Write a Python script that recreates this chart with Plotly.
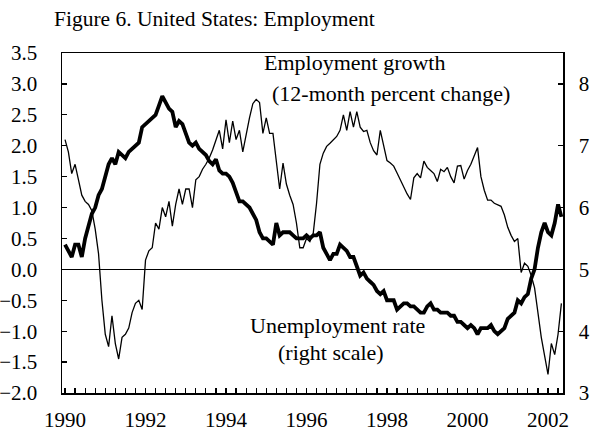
import plotly.graph_objects as go

# Monthly data, Jan 1990 - May 2002
start_year = 1990
growth = [
    2.1, 1.9, 1.55, 1.7, 1.45, 1.2, 1.1, 1.05, 0.95, 0.65, 0.25, -0.5,
    -1.05, -1.25, -0.75, -1.2, -1.45, -1.1, -1.05, -0.95, -0.7, -0.55, -0.5, -0.65,
    0.15, 0.3, 0.35, 0.75, 0.65, 1.0, 0.85, 1.1, 0.7, 1.05, 1.3, 1.05,
    1.3, 1.3, 1.0, 1.45, 1.5, 1.62, 1.7, 1.8, 1.93, 2.1, 2.25, 1.95,
    2.42, 2.05, 2.4, 2.1, 2.25, 1.9, 2.2, 2.45, 2.68, 2.75, 2.7, 2.2,
    2.45, 2.2, 2.2, 1.75, 1.3, 1.72, 1.38, 1.2, 1.05, 0.75, 0.35, 0.35,
    0.5, 0.45, 0.58, 1.07, 1.7, 1.88, 1.99, 2.04, 2.1, 2.15, 2.25, 2.5,
    2.25, 2.55, 2.3, 2.55, 2.3, 2.23, 2.25, 2.05, 1.92, 1.85, 2.25, 1.98,
    1.76, 1.72, 1.67, 1.56, 1.45, 1.32, 1.22, 1.13, 1.48, 1.55, 1.48, 1.75,
    1.65, 1.6, 1.55, 1.42, 1.62, 1.58, 1.65, 1.5, 1.4, 1.67, 1.68, 1.46,
    1.6, 1.7, 1.83, 1.97, 1.5, 1.28, 1.12, 1.12, 1.07, 1.05, 1.02, 0.88,
    0.68, 0.55, 0.45, 0.5, -0.05, 0.1, 0.05, -0.1, -0.3, -0.7, -1.1, -1.4,
    -1.7, -1.2, -1.38, -1.05, -0.55,
]
unemployment = [
    5.4, 5.3, 5.2, 5.4, 5.4, 5.2, 5.5, 5.7, 5.9, 6.0, 6.2, 6.3,
    6.5, 6.7, 6.8, 6.7, 6.9, 6.85, 6.8, 6.9, 6.95, 7.0, 7.05, 7.3,
    7.35, 7.4, 7.45, 7.5, 7.65, 7.8, 7.7, 7.6, 7.55, 7.3, 7.4, 7.35,
    7.2, 7.05, 7.0, 7.05, 6.95, 6.9, 6.85, 6.75, 6.7, 6.78, 6.6, 6.55,
    6.55, 6.5, 6.4, 6.25, 6.1, 6.1, 6.05, 6.0, 5.9, 5.8, 5.6, 5.5,
    5.5, 5.45, 5.4, 5.75, 5.55, 5.6, 5.6, 5.6, 5.55, 5.5, 5.5, 5.5,
    5.55, 5.5, 5.55, 5.55, 5.6, 5.35, 5.25, 5.15, 5.25, 5.25, 5.4, 5.35,
    5.3, 5.2, 5.2, 5.05, 4.9, 4.95, 4.85, 4.8, 4.75, 4.65, 4.6, 4.65,
    4.5, 4.5, 4.5, 4.35, 4.4, 4.45, 4.45, 4.4, 4.4, 4.35, 4.3, 4.3,
    4.4, 4.45, 4.35, 4.35, 4.3, 4.3, 4.3, 4.25, 4.25, 4.15, 4.15, 4.1,
    4.05, 4.1, 4.05, 3.95, 4.05, 4.05, 4.05, 4.1, 4.0, 3.95, 4.0, 4.05,
    4.2, 4.25, 4.3, 4.5, 4.45, 4.55, 4.6, 4.85, 5.0, 5.35, 5.6, 5.75,
    5.6, 5.55, 5.75, 6.05, 5.85,
]
label_years = [1990, 1992, 1994, 1996, 1998, 2000, 2002]

months = [start_year + i / 12 for i in range(len(growth))]

# quarterly ticks, labels every two years
tickvals = [1990 + q / 4 for q in range(0, 50)]
ticktext = [str(int(v)) if (v == int(v) and int(v) in label_years) else "" for v in tickvals]

FONT = "Liberation Serif, Times New Roman, serif"
TICKSIZE = 21

W, H = 596, 432

fig = go.Figure()
fig.add_trace(go.Scatter(x=months, y=growth, mode="lines",
                         line=dict(color="black", width=1.3),
                         yaxis="y", showlegend=False, hoverinfo="skip"))
fig.add_trace(go.Scatter(x=months, y=unemployment, mode="lines",
                         line=dict(color="black", width=3.8),
                         yaxis="y2", showlegend=False, hoverinfo="skip"))

axis_common = dict(showgrid=False, showline=True, linecolor="black", linewidth=1.5,
                   ticks="inside", ticklen=5, tickwidth=1.2, tickcolor="black",
                   automargin=False,
                   tickfont=dict(family=FONT, size=TICKSIZE, color="black"))

fig.update_layout(
    width=W, height=H,
    margin=dict(l=62, r=33, t=53, b=39, autoexpand=False),
    paper_bgcolor="white", plot_bgcolor="white",
    font=dict(family=FONT, color="black"),
    title=dict(text="Figure 6. United States: Employment", x=54 / W, xanchor="left",
               xref="container", y=1 - 18 / H, yanchor="middle", yref="container",
               font=dict(family=FONT, size=21.5, color="black")),
    xaxis=dict(range=[1989.925, 2002.373], tickvals=tickvals, ticktext=ticktext,
               mirror=True, zeroline=False, ticklabelstandoff=7, **axis_common),
    yaxis=dict(range=[-2.0, 3.5], dtick=0.5, tick0=0, tickformat=".1f",
               zeroline=True, zerolinecolor="black", zerolinewidth=1.3,
               ticklabelstandoff=19, **axis_common),
    yaxis2=dict(range=[3, 8.5], dtick=1, tick0=3, overlaying="y", side="right",
                zeroline=False, ticklabelstandoff=10, **axis_common),
)

ann_font = dict(family=FONT, size=22, color="black")
fig.add_annotation(x=1997.2, y=3.35, text="Employment growth", showarrow=False,
                   font=ann_font, xref="x", yref="y")
fig.add_annotation(x=1998.1, y=2.85, text="(12-month percent change)", showarrow=False,
                   font=ann_font, xref="x", yref="y")
fig.add_annotation(x=1996.78, y=-0.9, text="Unemployment rate", showarrow=False,
                   font=ann_font, xref="x", yref="y")
fig.add_annotation(x=1996.6, y=-1.34, text="(right scale)", showarrow=False,
                   font=ann_font, xref="x", yref="y")

# remove the browser's default page margin so the figure sits at the window origin
fig.write_html("out.html", config={"displayModeBar": False, "staticPlot": True},
               post_script="document.body.style.margin='0';")
